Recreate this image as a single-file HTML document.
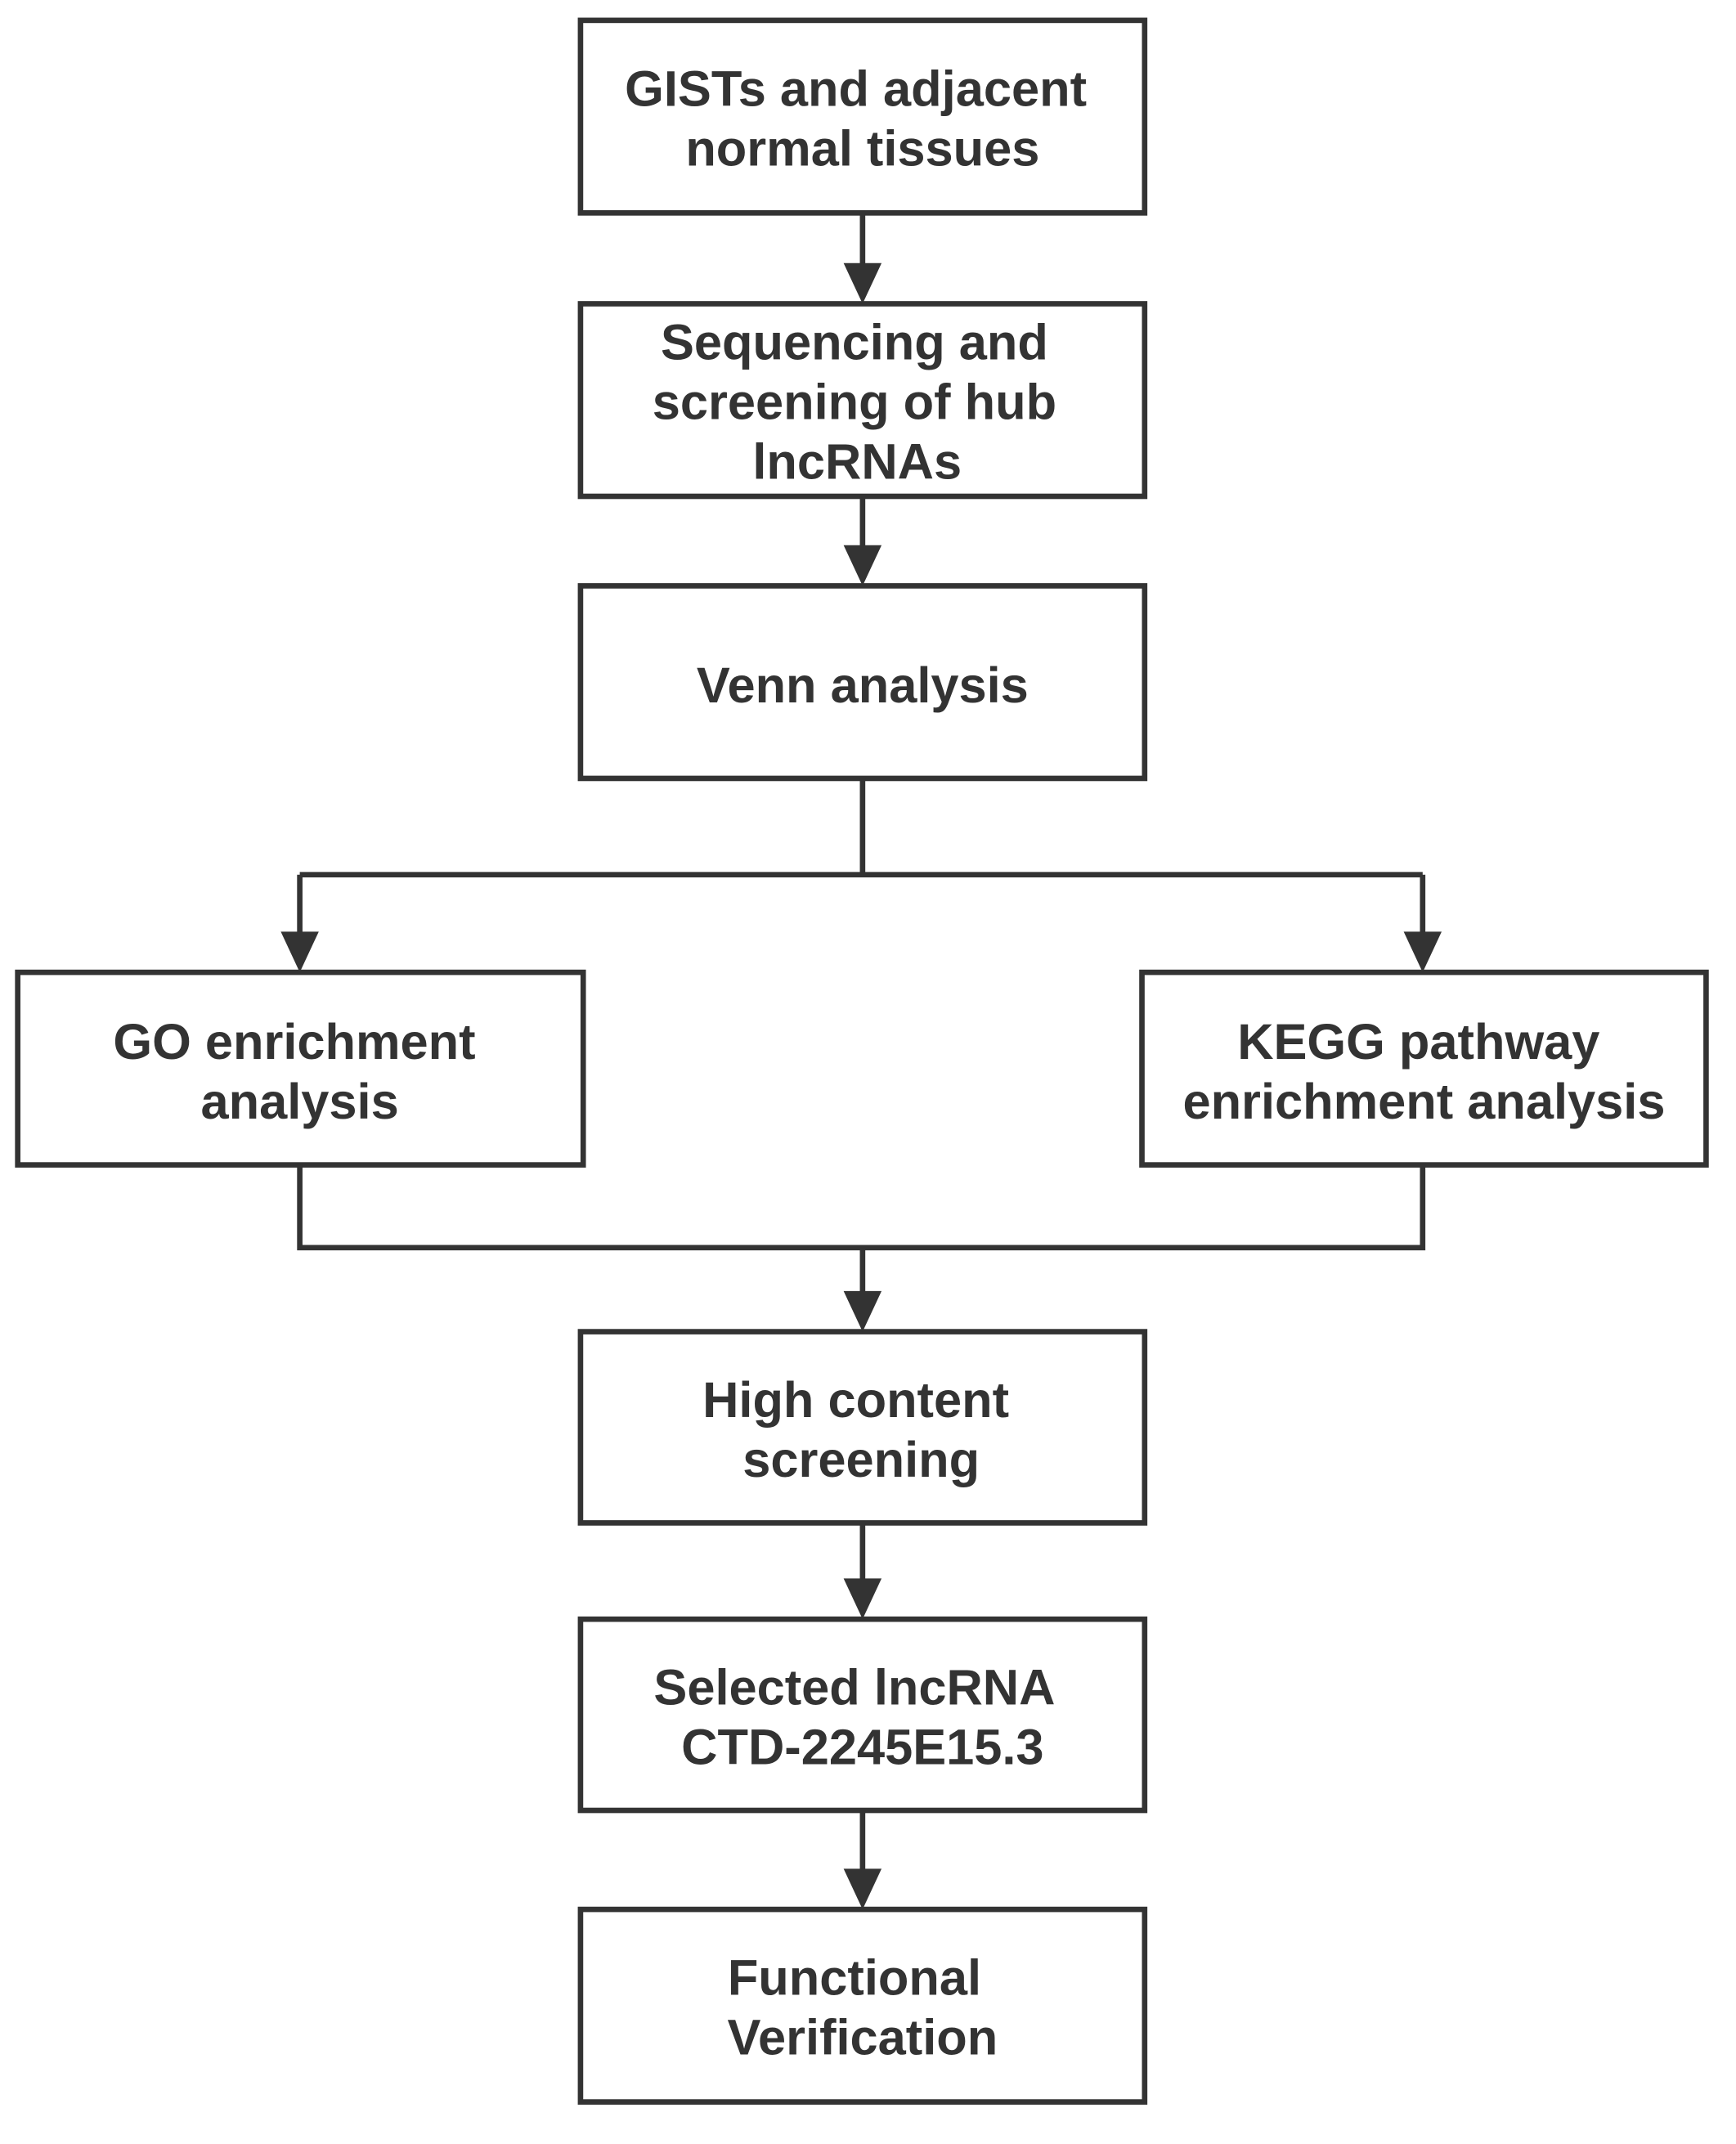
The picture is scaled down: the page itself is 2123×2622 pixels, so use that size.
<!DOCTYPE html>
<html><head><meta charset="utf-8"><style>
html,body{margin:0;padding:0;background:#fff;}
svg{display:block;}
text{font-family:"Liberation Sans","DejaVu Sans",sans-serif;font-weight:bold;font-size:37px;fill:#333;text-anchor:middle;}
</style></head><body>
<svg width="2123" height="2622" viewBox="0 0 1280 1581" xmlns="http://www.w3.org/2000/svg">
<g fill="none" stroke="#333" stroke-width="4">
<rect x="428" y="15" width="416" height="142"/>
<rect x="428" y="224" width="416" height="142"/>
<rect x="428" y="432" width="416" height="142"/>
<rect x="13" y="717" width="417" height="142"/>
<rect x="842" y="717" width="416" height="142"/>
<rect x="428" y="982" width="416" height="141"/>
<rect x="428" y="1194" width="416" height="141"/>
<rect x="428" y="1408" width="416" height="142"/>
<path d="M636 157V196M636 366V404M636 574V645M221 645H1049M221 645V690M1049 645V690M221 859V920H1049V859M636 920V955M636 1123V1166M636 1335V1380"/>
</g>
<g fill="#333">
<path d="M622 194H650L636 224Z"/>
<path d="M622 402H650L636 432Z"/>
<path d="M207 687H235L221 717Z"/>
<path d="M1035 687H1063L1049 717Z"/>
<path d="M622 952H650L636 982Z"/>
<path d="M622 1164H650L636 1194Z"/>
<path d="M622 1378H650L636 1408Z"/>
</g>
<text x="631" y="78">GISTs and adjacent</text>
<text x="636" y="122">normal tissues</text>
<text x="630" y="265">Sequencing and</text>
<text x="630" y="309">screening of hub</text>
<text x="632" y="353">lncRNAs</text>
<text x="636" y="518">Venn analysis</text>
<text x="217" y="781">GO enrichment</text>
<text x="221" y="825">analysis</text>
<text x="1046" y="781">KEGG pathway</text>
<text x="1050" y="825">enrichment analysis</text>
<text x="631" y="1045">High content</text>
<text x="635" y="1089">screening</text>
<text x="630" y="1257">Selected lncRNA</text>
<text x="636" y="1301">CTD-2245E15.3</text>
<text x="630" y="1471">Functional</text>
<text x="636" y="1515">Verification</text>
</svg>
</body></html>
